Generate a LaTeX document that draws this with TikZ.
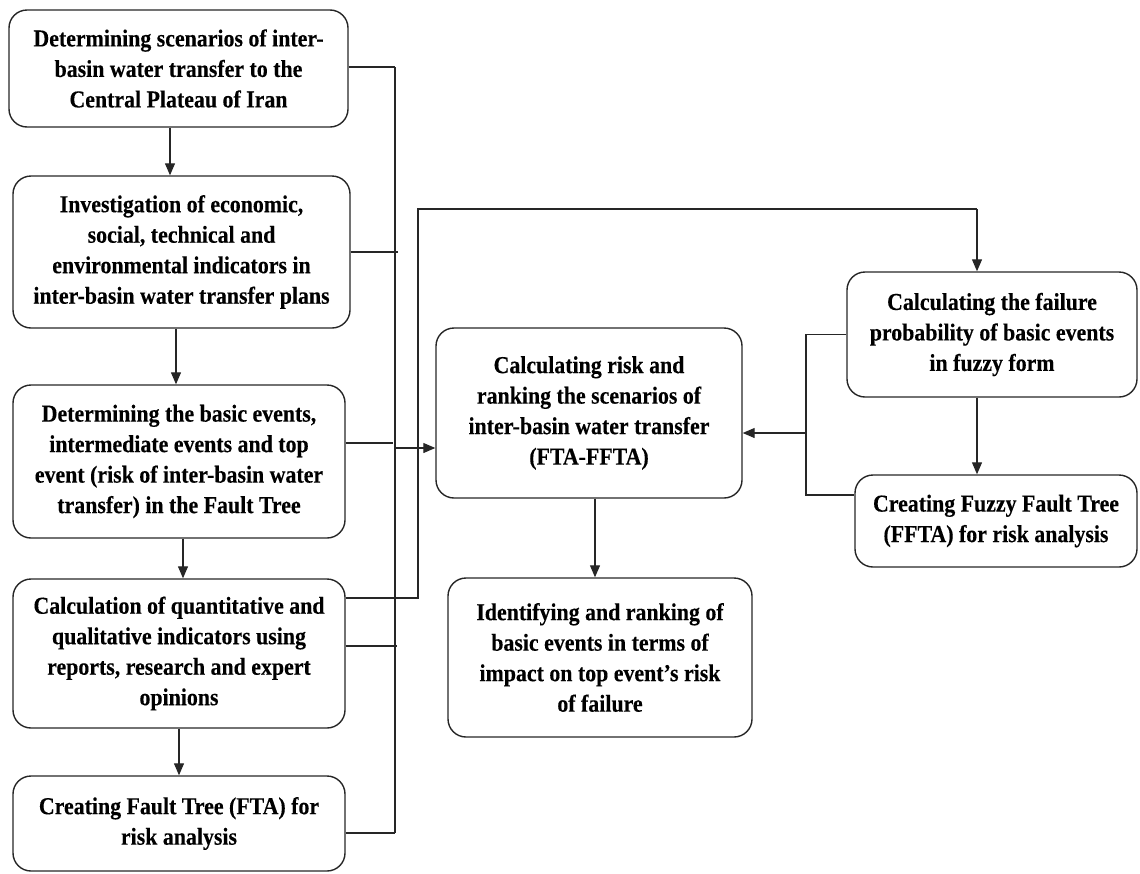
\documentclass[tikz,border=0pt]{standalone}
\usepackage{fontspec}
\setmainfont{Liberation Serif}[FakeStretch=0.9, BoldFeatures={FakeBold=0.25}]
\usetikzlibrary{arrows.meta}
\begin{document}
\begin{tikzpicture}[x=1pt,y=-1pt,
  box/.style={draw=black!85, line width=1.4pt, rounded corners=18pt, inner sep=0pt,
    align=center, font=\fontsize{24.3}{30.5}\selectfont\bfseries},
  conn/.style={draw=black!85, line width=1.2pt},
  arr/.style={conn, -{Triangle[width=10pt,length=12pt]}}]
\useasboundingbox (0,0) rectangle (1140,873);
% left column
\node[box, minimum width=339pt, minimum height=117pt] (b1) at (178.5,68.5)
  {Determining scenarios of inter-\\basin water transfer to the\\Central Plateau of Iran};
\node[box, minimum width=337pt, minimum height=152pt] (b2) at (181.5,252)
  {Investigation of economic,\\social, technical and\\environmental indicators in\\inter-basin water transfer plans};
\node[box, minimum width=332pt, minimum height=153pt] (b3) at (179,461.5)
  {Determining the basic events,\\intermediate events and top\\event (risk of inter-basin water\\transfer) in the Fault Tree};
\node[box, minimum width=332pt, minimum height=149pt] (b4) at (179,653.5)
  {Calculation of quantitative and\\qualitative indicators using\\reports, research and expert\\opinions};
\node[box, minimum width=332pt, minimum height=95pt] (b5) at (179,823.5)
  {Creating Fault Tree (FTA) for\\risk analysis};
% middle column
\node[box, minimum width=306pt, minimum height=170pt] (b6) at (589,413)
  {Calculating risk and\\ranking the scenarios of\\inter-basin water transfer\\(FTA-FFTA)};
\node[box, minimum width=304pt, minimum height=159pt] (b8) at (600,657.5)
  {Identifying and ranking of\\basic events in terms of\\impact on top event’s risk\\of failure};
% right column
\node[box, minimum width=290pt, minimum height=125pt] (b7) at (992,334.5)
  {Calculating the failure\\probability of basic events\\in fuzzy form};
\node[box, minimum width=282pt, minimum height=92pt] (b9) at (996,521)
  {Creating Fuzzy Fault Tree\\(FFTA) for risk analysis};
% vertical arrows left column
\draw[arr] ([xshift=-8.5pt]b1.south) -- ([xshift=-8.5pt]b1.south |- b2.north);
\draw[arr] ([xshift=-5.5pt]b2.south) -- ([xshift=-5.5pt]b2.south |- b3.north);
\draw[arr] ([xshift=4pt]b3.south) -- ([xshift=4pt]b3.south |- b4.north);
\draw[arr] (b4.south) -- (b4.south |- b5.north);
% bus
\coordinate (bt) at (395,67);
\coordinate (bb) at (395,833);
\coordinate (j1) at (395,448);
\draw[conn] (bt) -- (bb);
\draw[conn] (b1.east |- bt) -- (bt);
\draw[conn] (b2.east |- 0,252) -- (398,252);
\draw[conn] (b3.east |- 0,443) -- (393,443);
\draw[conn] (b4.east |- 0,646) -- (397,646);
\draw[conn] (b5.east |- bb) -- (bb);
\draw[arr] (j1) -- (j1 -| b6.west);
% line from box 4 to box 7
\coordinate (k1) at (418,598);
\coordinate (k2) at (418,209);
\coordinate (k3) at (977,209);
\draw[conn] (b4.east |- k1) -- (k1) -- (k2) -- (k3);
\draw[arr] (k3) -- (k3 |- b7.north);
\draw[arr] (k3 |- b7.south) -- (k3 |- b9.north);
% bracket from right column to box 6
\coordinate (r1) at (806,334.5);
\coordinate (r2) at (806,495);
\coordinate (r3) at (806,433);
\draw[conn] (b7.west |- r1) -- (r1) -- (r2) -- (r2 -| b9.west);
\draw[arr] (r3) -- (r3 -| b6.east);
\draw[arr] (b6.south -| 595,0) -- (b8.north -| 595,0);
\end{tikzpicture}
\end{document}
